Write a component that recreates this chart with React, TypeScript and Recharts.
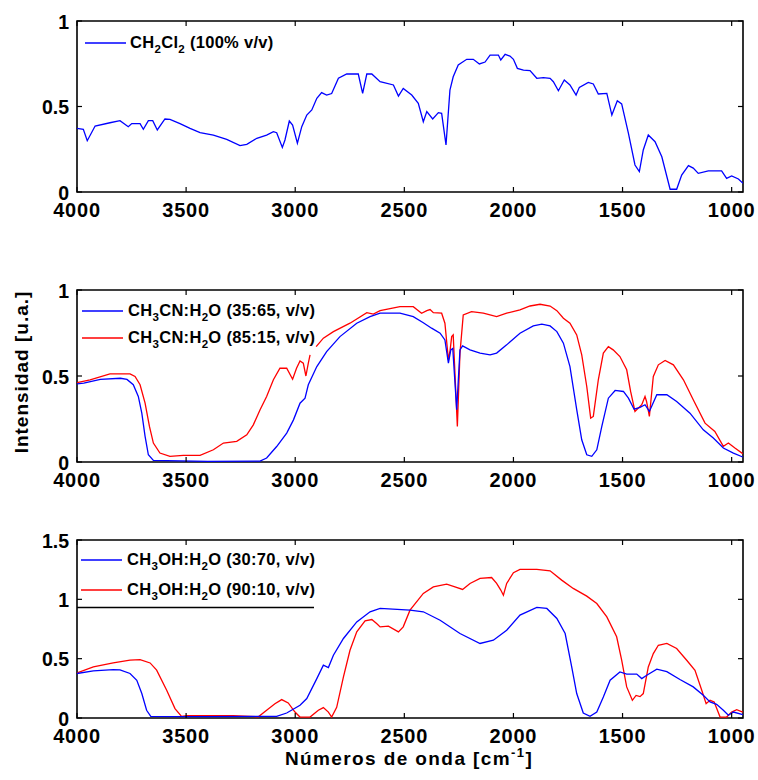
import React from "react";
import { LineChart, Line, XAxis, YAxis, ReferenceArea, Legend } from "recharts";

const FONT = '"Liberation Sans", Arial, Helvetica, sans-serif';

// ---- tick labels ----
const xTicks = [4000, 3500, 3000, 2500, 2000, 1500, 1000];
const yTicksUnit = [0, 0.5, 1];
const yTicksMeOH = [0, 0.5, 1, 1.5];
const xDomain = [948, 4000];

// ---- Panel 1: CH2Cl2 ----
const wnCH2Cl2 = [4000, 3971, 3953, 3917, 3849, 3803, 3765, 3749, 3711, 3696, 3673, 3653, 3632, 3597, 3574, 3528, 3482, 3436, 3375, 3314, 3253, 3222, 3176, 3131, 3100, 3085, 3059, 3047, 3027, 3012, 2990, 2970, 2947, 2924, 2901, 2879, 2856, 2833, 2802, 2764, 2711, 2691, 2672, 2649, 2611, 2550, 2527, 2505, 2466, 2436, 2413, 2397, 2370, 2344, 2329, 2309, 2291, 2276, 2253, 2214, 2184, 2156, 2130, 2107, 2069, 2058, 2038, 2016, 2000, 1982, 1954, 1924, 1893, 1863, 1832, 1817, 1794, 1767, 1741, 1713, 1698, 1657, 1634, 1611, 1572, 1549, 1524, 1504, 1473, 1443, 1423, 1405, 1382, 1351, 1320, 1282, 1252, 1229, 1198, 1176, 1153, 1107, 1046, 1023, 1000, 969, 948];
const intCH2Cl2 = [0.372, 0.367, 0.30, 0.386, 0.405, 0.417, 0.382, 0.40, 0.40, 0.367, 0.417, 0.417, 0.363, 0.427, 0.425, 0.40, 0.372, 0.347, 0.333, 0.308, 0.271, 0.279, 0.314, 0.333, 0.353, 0.347, 0.261, 0.304, 0.415, 0.392, 0.285, 0.382, 0.45, 0.48, 0.548, 0.581, 0.567, 0.576, 0.665, 0.69, 0.69, 0.577, 0.69, 0.69, 0.645, 0.626, 0.561, 0.606, 0.567, 0.519, 0.411, 0.47, 0.427, 0.464, 0.46, 0.275, 0.596, 0.674, 0.743, 0.776, 0.776, 0.749, 0.76, 0.801, 0.801, 0.772, 0.805, 0.795, 0.776, 0.723, 0.713, 0.71, 0.665, 0.669, 0.665, 0.645, 0.592, 0.655, 0.626, 0.567, 0.612, 0.641, 0.632, 0.573, 0.577, 0.45, 0.534, 0.515, 0.343, 0.158, 0.119, 0.246, 0.333, 0.294, 0.206, 0.016, 0.016, 0.099, 0.154, 0.14, 0.109, 0.123, 0.123, 0.08, 0.094, 0.076, 0.051];

// ---- Panel 2: CH3CN:H2O ----
const wnACN35 = [4000, 3969, 3893, 3801, 3771, 3742, 3719, 3703, 3688, 3673, 3650, 3400, 3161, 3131, 3085, 3039, 3008, 2978, 2955, 2940, 2901, 2856, 2795, 2718, 2657, 2611, 2520, 2459, 2413, 2375, 2336, 2314, 2298, 2287, 2278, 2260, 2245, 2233, 2199, 2153, 2107, 2077, 2031, 1970, 1909, 1870, 1832, 1801, 1771, 1741, 1710, 1687, 1664, 1641, 1618, 1595, 1565, 1534, 1496, 1473, 1447, 1420, 1397, 1377, 1343, 1297, 1252, 1191, 1130, 1084, 1038, 992, 949];
const intACN35 = [0.454, 0.458, 0.48, 0.487, 0.48, 0.449, 0.381, 0.284, 0.149, 0.042, 0.009, 0.004, 0.005, 0.023, 0.09, 0.168, 0.245, 0.342, 0.371, 0.449, 0.555, 0.642, 0.729, 0.807, 0.845, 0.865, 0.865, 0.845, 0.81, 0.778, 0.749, 0.71, 0.575, 0.652, 0.66, 0.304, 0.652, 0.675, 0.652, 0.633, 0.623, 0.633, 0.681, 0.749, 0.791, 0.801, 0.791, 0.758, 0.691, 0.555, 0.304, 0.129, 0.042, 0.033, 0.071, 0.207, 0.371, 0.416, 0.41, 0.371, 0.307, 0.318, 0.333, 0.294, 0.391, 0.391, 0.352, 0.284, 0.187, 0.139, 0.081, 0.052, 0.029];

const wnACN85 = [4000, 3940, 3849, 3757, 3734, 3711, 3688, 3668, 3650, 3620, 3574, 3513, 3436, 3375, 3329, 3268, 3222, 3192, 3161, 3131, 3100, 3070, 3039, 3012, 2994, 2978, 2963, 2951, 2940, 2932, 2918, 2904, 2871, 2825, 2749, 2672, 2642, 2611, 2520, 2459, 2421, 2397, 2382, 2367, 2329, 2314, 2298, 2290, 2283, 2276, 2257, 2245, 2230, 2192, 2138, 2077, 2031, 1970, 1924, 1878, 1832, 1801, 1771, 1741, 1710, 1687, 1664, 1646, 1634, 1611, 1588, 1565, 1543, 1512, 1481, 1463, 1443, 1412, 1397, 1390, 1377, 1359, 1336, 1305, 1267, 1221, 1176, 1122, 1077, 1038, 1015, 985, 949];
const intACN85 = [0.461, 0.478, 0.512, 0.512, 0.497, 0.449, 0.342, 0.207, 0.11, 0.052, 0.033, 0.039, 0.039, 0.071, 0.11, 0.12, 0.158, 0.216, 0.304, 0.381, 0.478, 0.545, 0.545, 0.481, 0.545, 0.588, 0.575, 0.5, 0.575, 0.623, null, 0.671, 0.72, 0.758, 0.807, 0.868, 0.86, 0.88, 0.903, 0.903, 0.865, 0.88, 0.886, 0.868, 0.865, 0.807, 0.594, 0.652, 0.729, 0.739, 0.207, 0.633, 0.855, 0.874, 0.865, 0.845, 0.865, 0.884, 0.907, 0.917, 0.907, 0.88, 0.836, 0.807, 0.739, 0.623, 0.439, 0.255, 0.265, 0.478, 0.633, 0.671, 0.652, 0.613, 0.536, 0.41, 0.294, 0.333, 0.381, 0.352, 0.265, 0.497, 0.565, 0.59, 0.565, 0.478, 0.362, 0.226, 0.178, 0.091, 0.11, 0.081, 0.048];

// ---- Panel 3: CH3OH:H2O ----
const wnMeOH30 = [4000, 3925, 3834, 3803, 3757, 3726, 3703, 3681, 3662, 3400, 3085, 3039, 2978, 2947, 2901, 2871, 2848, 2825, 2779, 2718, 2657, 2611, 2474, 2413, 2336, 2245, 2153, 2092, 2031, 1970, 1893, 1847, 1801, 1763, 1733, 1710, 1680, 1649, 1618, 1588, 1557, 1512, 1481, 1435, 1412, 1389, 1343, 1297, 1237, 1176, 1130, 1099, 1069, 1038, 1015, 992, 949];
const intMeOH30 = [0.375, 0.397, 0.408, 0.405, 0.375, 0.318, 0.206, 0.065, 0.014, 0.012, 0.014, 0.042, 0.107, 0.164, 0.332, 0.445, 0.425, 0.529, 0.67, 0.81, 0.895, 0.923, 0.909, 0.895, 0.824, 0.712, 0.628, 0.656, 0.74, 0.867, 0.932, 0.923, 0.839, 0.712, 0.43, 0.206, 0.042, 0.014, 0.05, 0.177, 0.318, 0.388, 0.37, 0.37, 0.332, 0.36, 0.411, 0.39, 0.324, 0.262, 0.192, 0.135, 0.115, 0.065, 0.023, 0.05, 0.028];

const wnMeOH90 = [4000, 3925, 3834, 3757, 3711, 3665, 3635, 3589, 3551, 3521, 3497, 3284, 3169, 3131, 3093, 3062, 3032, 3001, 2978, 2932, 2894, 2871, 2848, 2833, 2810, 2779, 2749, 2718, 2680, 2649, 2627, 2611, 2573, 2527, 2505, 2474, 2413, 2367, 2306, 2268, 2233, 2199, 2153, 2100, 2077, 2058, 2046, 2031, 2000, 1970, 1893, 1832, 1779, 1726, 1664, 1618, 1572, 1527, 1504, 1481, 1455, 1438, 1420, 1405, 1382, 1359, 1336, 1297, 1252, 1206, 1168, 1137, 1117, 1099, 1080, 1053, 1023, 1000, 977, 949];
const intMeOH90 = [0.38, 0.43, 0.464, 0.487, 0.492, 0.464, 0.403, 0.234, 0.079, 0.014, 0.02, 0.02, 0.01, 0.065, 0.12, 0.155, 0.127, 0.05, 0.008, 0.008, 0.065, 0.088, 0.05, 0.008, 0.09, 0.346, 0.571, 0.726, 0.819, 0.83, 0.796, 0.768, 0.774, 0.726, 0.768, 0.909, 1.05, 1.105, 1.128, 1.105, 1.083, 1.134, 1.176, 1.184, 1.134, 1.078, 1.035, 1.134, 1.224, 1.252, 1.252, 1.24, 1.162, 1.092, 1.027, 0.965, 0.852, 0.684, 0.487, 0.262, 0.149, 0.19, 0.18, 0.206, 0.43, 0.543, 0.613, 0.628, 0.586, 0.487, 0.402, 0.234, 0.121, 0.149, 0.135, 0.008, 0.008, 0.05, 0.07, 0.05];

// ---- legend labels ( _n = subscript ) ----
const labelCH2Cl2 = "CH_2Cl_2 (100% v/v)";
const labelACN35 = "CH_3CN:H_2O (35:65, v/v)";
const labelACN85 = "CH_3CN:H_2O (85:15, v/v)";
const labelMeOH30 = "CH_3OH:H_2O (30:70, v/v)";
const labelMeOH90 = "CH_3OH:H_2O (90:10, v/v)";

const BLUE = "#0000ff";
const RED = "#ff0000";

const zip = (wn: number[], v: (number | null)[]) => wn.map((x, i) => ({ x, y: v[i] }));

const PLOT_LEFT = 77;
const PLOT_RIGHT = 743;
const YAXIS_W = 77;
const XAXIS_H = 30;

function SubText({ text, x, y, size }: { text: string; x: number; y: number; size: number }) {
  const parts = text.split(/_(\d)/);
  const out: React.ReactNode[] = [];
  let down = false;
  parts.forEach((p, i) => {
    if (p === "") return;
    const isSub = i % 2 === 1;
    let dy = 0;
    if (isSub && !down) { dy = 5; down = true; }
    else if (!isSub && down) { dy = -5; down = false; }
    out.push(
      <tspan key={i} dy={dy} fontSize={isSub ? size * 0.7 : size}>{p}</tspan>
    );
  });
  return (
    <text x={x} y={y} fontFamily={FONT} fontWeight="bold" fontSize={size} letterSpacing={0.3} fill="#000">{out}</text>
  );
}

type Row = { label: string; color: string; y: number };

function Panel({ top, height, marginTop, marginBottom, yMax, yTicks, series, rows, lineX1, lineX2, textX, underline }: any) {
  const plotTop = marginTop;
  const plotBottom = height - marginBottom - XAXIS_H;

  const XTick = (props: any) => {
    const { x, payload } = props;
    return (
      <g>
        <line x1={x} x2={x} y1={plotBottom} y2={plotBottom - 5} stroke="#000" strokeWidth={1.2} />
        <line x1={x} x2={x} y1={plotTop} y2={plotTop + 5} stroke="#000" strokeWidth={1.2} />
        <text x={x} y={plotBottom + 25} textAnchor="middle" fontFamily={FONT} fontWeight="bold" fontSize={20} letterSpacing={0.8} fill="#000">
          {payload.value}
        </text>
      </g>
    );
  };
  const YTick = (props: any) => {
    const { y, payload } = props;
    return (
      <g>
        <line x1={PLOT_LEFT} x2={PLOT_LEFT + 5} y1={y} y2={y} stroke="#000" strokeWidth={1.2} />
        <line x1={PLOT_RIGHT} x2={PLOT_RIGHT - 5} y1={y} y2={y} stroke="#000" strokeWidth={1.2} />
        <text x={69} y={y + 7.5} textAnchor="end" fontFamily={FONT} fontWeight="bold" fontSize={19.5} fill="#000">
          {String(payload.value)}
        </text>
      </g>
    );
  };

  const legendContent = () => (
    <svg width={260} height={72} style={{ display: "block", overflow: "visible" }}>
      {rows.map((r: Row, i: number) => (
        <g key={i}>
          <line x1={lineX1} x2={lineX2} y1={r.y} y2={r.y} stroke={r.color} strokeWidth={1.3} />
          <SubText text={r.label} x={textX} y={r.y + 5} size={16.5} />
        </g>
      ))}
      {underline ? <line x1={0} x2={underline} y1={67.5} y2={67.5} stroke="#000" strokeWidth={1.5} /> : null}
    </svg>
  );

  return (
    <div style={{ position: "absolute", left: 0, top, width: 758, height }}>
      <LineChart width={758} height={height} margin={{ top: marginTop, right: 758 - PLOT_RIGHT, bottom: marginBottom, left: 0 }}>
        <XAxis
          dataKey="x"
          type="number"
          domain={xDomain}
          reversed
          allowDataOverflow
          ticks={xTicks}
          interval={0}
          height={XAXIS_H}
          axisLine={false}
          tickLine={false}
          tick={XTick}
        />
        <YAxis
          type="number"
          domain={[0, yMax]}
          allowDataOverflow
          ticks={yTicks}
          interval={0}
          width={YAXIS_W}
          axisLine={false}
          tickLine={false}
          tick={YTick}
        />
        {series.map((s: any, i: number) => (
          <Line
            key={i}
            data={s.data}
            dataKey="y"
            type="linear"
            stroke={s.color}
            strokeWidth={1.3}
            dot={false}
            activeDot={false}
            connectNulls={false}
            isAnimationActive={false}
            name={s.name}
          />
        ))}
        <ReferenceArea x1={xDomain[0]} x2={xDomain[1]} y1={0} y2={yMax} fill="none" fillOpacity={0} stroke="#000" strokeWidth={1.6} />
        <Legend
          layout="vertical"
          align="center"
          verticalAlign="middle"
          content={legendContent}
          wrapperStyle={{ position: "absolute", left: PLOT_LEFT, top: plotTop, width: 260, height: 72, margin: 0, padding: 0 }}
        />
      </LineChart>
    </div>
  );
}

export default function App() {
  return (
    <div style={{ position: "absolute", left: 0, top: 0, width: 758, height: 780, background: "#fff", fontFamily: FONT }}>
      <Panel
        top={0}
        height={230}
        marginTop={21}
        marginBottom={8}
        yMax={1}
        yTicks={yTicksUnit}
        series={[{ data: zip(wnCH2Cl2, intCH2Cl2), color: BLUE, name: labelCH2Cl2 }]}
        rows={[{ label: labelCH2Cl2, color: BLUE, y: 22 }]}
        lineX1={8}
        lineX2={49}
        textX={53}
      />
      <Panel
        top={250}
        height={250}
        marginTop={40}
        marginBottom={8}
        yMax={1}
        yTicks={yTicksUnit}
        series={[
          { data: zip(wnACN85, intACN85), color: RED, name: labelACN85 },
          { data: zip(wnACN35, intACN35), color: BLUE, name: labelACN35 },
        ]}
        rows={[
          { label: labelACN35, color: BLUE, y: 21 },
          { label: labelACN85, color: RED, y: 48 },
        ]}
        lineX1={5}
        lineX2={46}
        textX={51}
      />
      <Panel
        top={500}
        height={260}
        marginTop={40}
        marginBottom={12}
        yMax={1.5}
        yTicks={yTicksMeOH}
        series={[
          { data: zip(wnMeOH90, intMeOH90), color: RED, name: labelMeOH90 },
          { data: zip(wnMeOH30, intMeOH30), color: BLUE, name: labelMeOH30 },
        ]}
        rows={[
          { label: labelMeOH30, color: BLUE, y: 20 },
          { label: labelMeOH90, color: RED, y: 50 },
        ]}
        lineX1={4}
        lineX2={45}
        textX={50}
        underline={237}
      />
      <svg width={758} height={780} style={{ position: "absolute", left: 0, top: 0, pointerEvents: "none" }}>
        <text
          x={28}
          y={372}
          transform="rotate(-90 28 372)"
          textAnchor="middle"
          fontFamily={FONT}
          fontWeight="bold"
          fontSize={19}
          letterSpacing={1}
          fill="#000"
        >
          Intensidad [u.a.]
        </text>
        <text x={409} y={765} textAnchor="middle" fontFamily={FONT} fontWeight="bold" fontSize={19} letterSpacing={1.4} fill="#000">
          <tspan>Números de onda [cm</tspan>
          <tspan dy={-8} fontSize={13}>-1</tspan>
          <tspan dy={8}>]</tspan>
        </text>
      </svg>
    </div>
  );
}
